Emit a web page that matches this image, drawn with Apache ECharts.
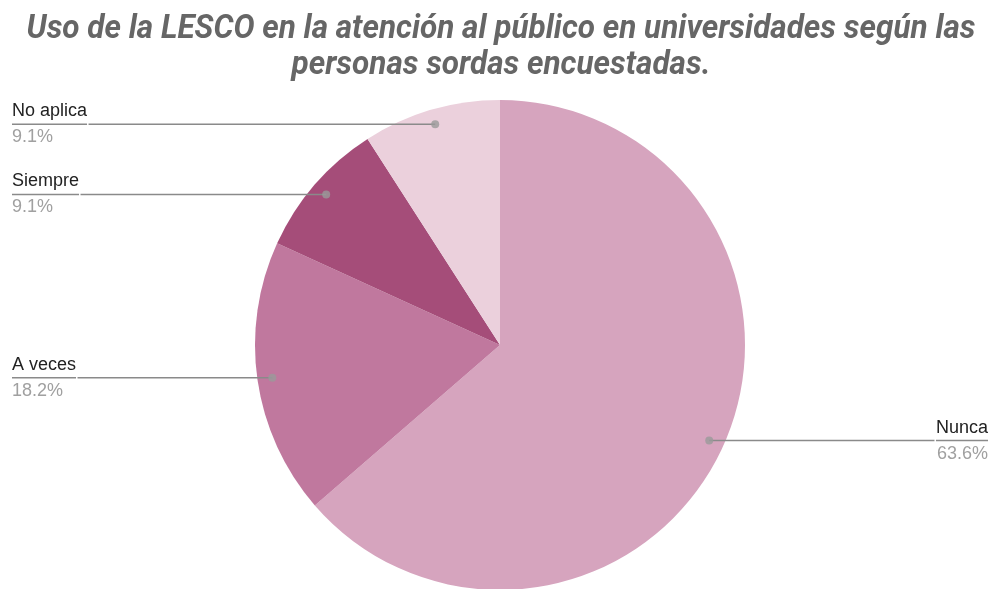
<!DOCTYPE html>
<html>
<head>
<meta charset="utf-8">
<script src="https://cdn.jsdelivr.net/npm/echarts@6/dist/echarts.min.js"></script>
<style>
  html, body { margin: 0; padding: 0; background: #fff; }
  #chart { width: 990px; height: 589px; }
</style>
</head>
<body>
<div id="chart"></div>
<script>
const categories = ['Nunca', 'A veces', 'Siempre', 'No aplica'];
const counts = [7, 2, 1, 1];
const colors = ['#d6a4be', '#c0789e', '#a54d79', '#ebd0dc'];
const titleText = 'Uso de la LESCO en la atención al público en universidades según las\npersonas sordas encuestadas.';

const center = [500, 345];
const outerR = 245;
const dotR = 230;

const total = counts.reduce((a, b) => a + b, 0);
// mid angle of every slice, in data units, for the little dots
let acc = 0;
const dotData = counts.map(v => {
  const mid = acc + v / 2;
  acc += v;
  return [dotR, mid];
});

const pieData = categories.map((name, i) => ({
  name: name,
  value: counts[i],
  itemStyle: { color: colors[i] }
}));

const labelData = categories.map((name, i) => {
  const item = { name: name, value: counts[i] };
  if (name === 'Nunca') {
    item.label = { edgeDistance: 2 };
  }
  return item;
});

const chart = echarts.init(document.getElementById('chart'));
chart.setOption({
  backgroundColor: '#fff',
  graphic: [{
    type: 'text',
    x: 501,
    y: 48,
    scaleX: 0.954,
    silent: true,
    style: {
      text: titleText,
      textAlign: 'center',
      textVerticalAlign: 'middle',
      fontFamily: 'Roboto, "Liberation Sans", sans-serif',
      fontStyle: 'italic',
      fontWeight: 'bold',
      fontSize: 33,
      lineHeight: 36,
      fill: '#666666'
    }
  }],
  polar: { center: center, radius: outerR },
  angleAxis: { type: 'value', min: 0, max: total, startAngle: 90, clockwise: true, show: false },
  radiusAxis: { type: 'value', min: 0, max: outerR, show: false },
  series: [
    {
      type: 'pie',
      z: 1,
      center: center,
      radius: outerR,
      startAngle: 90,
      clockwise: true,
      silent: true,
      label: { show: false },
      labelLine: { show: false },
      data: pieData
    },
    {
      type: 'pie',
      z: 3,
      center: center,
      radius: dotR,
      startAngle: 90,
      clockwise: true,
      silent: true,
      percentPrecision: 1,
      itemStyle: { color: 'rgba(0,0,0,0)' },
      label: {
        show: true,
        position: 'outside',
        alignTo: 'edge',
        edgeDistance: 12,
        distanceToLabelLine: 0,
        formatter: '{a|{b}}\n{hr|}\n{p|{d}%}',
        rich: {
          a: { fontFamily: '"Liberation Sans", Arial, sans-serif', fontSize: 18, color: '#222222', lineHeight: 26 },
          hr: { borderColor: '#8a8a8a', width: '100%', borderWidth: 1.5, height: 0 },
          p: { fontFamily: '"Liberation Sans", Arial, sans-serif', fontSize: 18, color: '#a0a0a0', lineHeight: 26 }
        }
      },
      labelLine: {
        show: true,
        showAbove: true,
        length: 0,
        length2: 10,
        lineStyle: { color: '#8a8a8a', width: 1.5 }
      },
      data: labelData
    },
    {
      type: 'scatter',
      z: 4,
      coordinateSystem: 'polar',
      symbol: 'circle',
      symbolSize: 8,
      silent: true,
      itemStyle: { color: '#9a9a9a' },
      data: dotData
    }
  ]
});
</script>
</body>
</html>
